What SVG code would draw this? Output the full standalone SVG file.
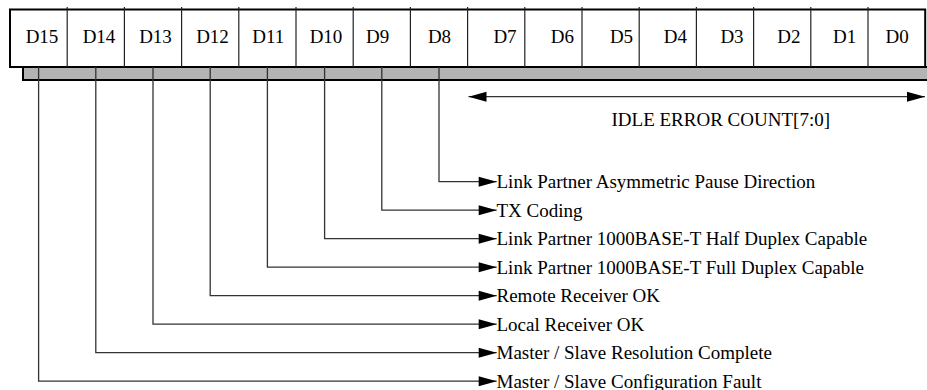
<svg xmlns="http://www.w3.org/2000/svg" width="927" height="390" viewBox="0 0 927 390">
<style>
text{font-family:"Liberation Serif","Times New Roman",serif;font-size:19px;fill:#000}
.cell{text-anchor:middle}
.div{stroke:#222;stroke-width:1.2}
.conn{fill:none;stroke:#333;stroke-width:1.3}
</style>
<defs>
<marker id="ah" markerUnits="userSpaceOnUse" markerWidth="18" markerHeight="10" refX="18" refY="5" orient="auto" overflow="visible">
<path d="M0,0 L18,5 L0,10 Z" fill="#000"/>
</marker>
<marker id="ahs" markerUnits="userSpaceOnUse" markerWidth="18" markerHeight="10" refX="18" refY="5" orient="auto-start-reverse" overflow="visible">
<path d="M0,0 L18,5 L0,10 Z" fill="#000"/>
</marker>
</defs>
<g id="register">
<rect x="23" y="67" width="906" height="13" fill="#b3b3b3" stroke="#000" stroke-width="2"/>
<rect x="10" y="9.5" width="915.2" height="57.5" fill="#fff" stroke="#000" stroke-width="2"/>
<g class="div">
<line x1="67.2" y1="7" x2="67.2" y2="67"/>
<line x1="124.4" y1="7" x2="124.4" y2="67"/>
<line x1="181.6" y1="7" x2="181.6" y2="67"/>
<line x1="238.8" y1="7" x2="238.8" y2="67"/>
<line x1="296" y1="7" x2="296" y2="67"/>
<line x1="353.2" y1="7" x2="353.2" y2="67"/>
<line x1="410.4" y1="7" x2="410.4" y2="67"/>
<line x1="467.6" y1="7" x2="467.6" y2="67"/>
<line x1="524.8" y1="7" x2="524.8" y2="67"/>
<line x1="582" y1="7" x2="582" y2="67"/>
<line x1="639.2" y1="7" x2="639.2" y2="67"/>
<line x1="696.4" y1="7" x2="696.4" y2="67"/>
<line x1="753.6" y1="7" x2="753.6" y2="67"/>
<line x1="810.8" y1="7" x2="810.8" y2="67"/>
<line x1="868" y1="7" x2="868" y2="67"/>
</g>
<text class="cell" x="42" y="43">D15</text>
<text class="cell" x="99" y="43">D14</text>
<text class="cell" x="155.5" y="43">D13</text>
<text class="cell" x="212.5" y="43">D12</text>
<text class="cell" x="268.3" y="43">D11</text>
<text class="cell" x="326" y="43">D10</text>
<text class="cell" x="377.7" y="43">D9</text>
<text class="cell" x="439.5" y="43">D8</text>
<text class="cell" x="505" y="43">D7</text>
<text class="cell" x="562.3" y="43">D6</text>
<text class="cell" x="621.5" y="43">D5</text>
<text class="cell" x="675.3" y="43">D4</text>
<text class="cell" x="732" y="43">D3</text>
<text class="cell" x="788.8" y="43">D2</text>
<text class="cell" x="844.7" y="43">D1</text>
<text class="cell" x="897.2" y="43">D0</text>
</g>
<g id="connectors">
<line class="conn" x1="468.5" y1="96.7" x2="925" y2="96.7" marker-start="url(#ahs)" marker-end="url(#ah)"/>
<path class="conn" d="M439,67 V181.7 H496.7" marker-end="url(#ah)"/>
<path class="conn" d="M381.8,67 V210.2 H496.7" marker-end="url(#ah)"/>
<path class="conn" d="M324.6,67 V238.7 H496.7" marker-end="url(#ah)"/>
<path class="conn" d="M267.4,67 V267.2 H496.7" marker-end="url(#ah)"/>
<path class="conn" d="M210.2,67 V295.7 H496.7" marker-end="url(#ah)"/>
<path class="conn" d="M153,67 V324.2 H496.7" marker-end="url(#ah)"/>
<path class="conn" d="M95.8,67 V352.7 H496.7" marker-end="url(#ah)"/>
<path class="conn" d="M38.6,67 V381.2 H496.7" marker-end="url(#ah)"/>
</g>
<g id="labels">
<text x="611.5" y="125.5">IDLE ERROR COUNT[7:0]</text>
<text x="496.5" y="188.3">Link Partner Asymmetric Pause Direction</text>
<text x="496.5" y="216.8">TX Coding</text>
<text x="496.5" y="245.3">Link Partner 1000BASE-T Half Duplex Capable</text>
<text x="496.5" y="273.8">Link Partner 1000BASE-T Full Duplex Capable</text>
<text x="496.5" y="302.3">Remote Receiver OK</text>
<text x="496.5" y="330.8">Local Receiver OK</text>
<text x="496.5" y="359.3">Master / Slave Resolution Complete</text>
<text x="496.5" y="387.8">Master / Slave Configuration Fault</text>
</g>
</svg>
